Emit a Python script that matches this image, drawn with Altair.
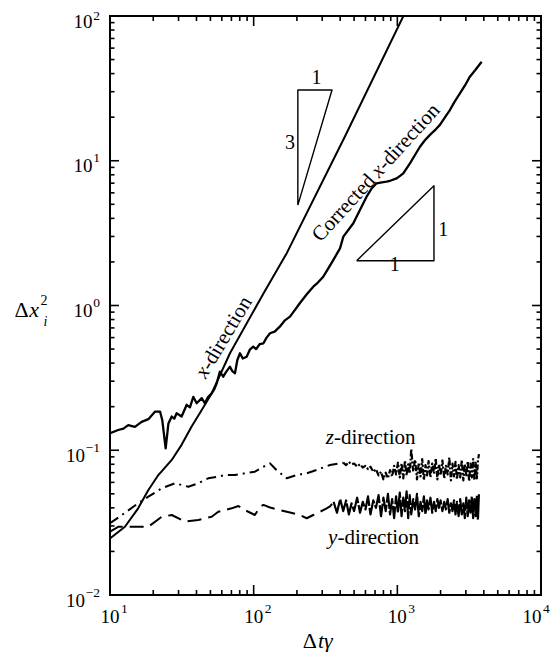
import altair as alt
import pandas as pd

# ---------------- data (x = Δtγ, y = Δx_i^2) ----------------
X_DIR_T = [10, 12.7, 15.7, 18.5, 21.7, 26.9, 31.5, 37, 43.5, 51, 68.4, 117, 170, 430, 1150]
X_DIR_V = [0.0246, 0.0296, 0.0397, 0.0531, 0.0674, 0.0857, 0.109, 0.146, 0.19, 0.247,
           0.468, 1.21, 2.3, 14.6, 109]

CORR_T = [10, 11.4, 12.4, 13.4, 14.9, 16.6, 18.5, 20.6, 22.3, 23.1, 24.4, 25.5, 26.9, 28.0,
          29.1, 31.5, 34.2, 36.0, 38.0, 40.1, 43.5, 45.8, 48.0, 51.0, 53.0, 55.3, 58.2, 61.4,
          64.0, 68.4, 71.0, 74.1, 77.0, 80.3, 84.0, 89.4, 94.0, 99.3, 104, 110, 117, 123, 130,
          140, 152, 165, 179, 195, 210, 235, 260, 280, 305, 330, 358, 399, 421, 494, 549, 611,
          660, 717, 780, 843, 900, 989, 1050, 1100, 1224, 1330, 1437, 1550, 1687, 1820, 1978,
          2150, 2322, 2500, 2727, 2950, 3199, 3500, 3864]
CORR_V = [0.131, 0.138, 0.141, 0.149, 0.145, 0.157, 0.164, 0.185, 0.185, 0.162, 0.103, 0.153,
          0.171, 0.165, 0.180, 0.171, 0.206, 0.198, 0.234, 0.211, 0.229, 0.211, 0.232, 0.247,
          0.262, 0.290, 0.349, 0.322, 0.345, 0.378, 0.352, 0.340, 0.420, 0.468, 0.430, 0.443,
          0.495, 0.519, 0.500, 0.540, 0.548, 0.600, 0.643, 0.660, 0.714, 0.790, 0.837, 0.940,
          1.04, 1.20, 1.35, 1.44, 1.58, 1.80, 2.06, 2.48, 2.99, 3.70, 4.57, 5.65, 6.40, 6.99,
          7.10, 7.17, 7.30, 7.56, 7.90, 8.19, 9.60, 11.0, 12.5, 13.8, 15.1, 16.2, 17.7, 20.0,
          22.4, 25.5, 29.2, 33.0, 38.1, 42.5, 48.3]

Z_T = [10, 12.1, 15.7, 18.5, 22.9, 28.3, 35.1, 41.1, 48.3, 56.7, 63.1, 74.1, 86.9, 102, 117,
       130, 144, 170, 199, 234, 274, 340, 400, 420]
Z_V = [0.0313, 0.0357, 0.043, 0.0478, 0.0546, 0.0591, 0.056, 0.0591, 0.064, 0.0656, 0.0674,
       0.0674, 0.0693, 0.0711, 0.0769, 0.0812, 0.0731, 0.064, 0.0674, 0.0693, 0.0731, 0.0791,
       0.0812, 0.082]
Z_NOISE = [(420, 0.082), (440, 0.079), (460, 0.083), (480, 0.080), (500, 0.081), (525, 0.077),
           (550, 0.080), (575, 0.076), (600, 0.078), (625, 0.074), (650, 0.077), (680, 0.071),
           (710, 0.074), (740, 0.067), (770, 0.071), (800, 0.063), (830, 0.070), (860, 0.064),
           (890, 0.073), (920, 0.066), (950, 0.078), (980, 0.068), (1010, 0.082), (1040, 0.065),
           (1070, 0.081), (1100, 0.064), (1130, 0.085), (1160, 0.067), (1190, 0.080),
           (1220, 0.069), (1250, 0.102), (1290, 0.071), (1330, 0.086), (1370, 0.063),
           (1410, 0.082), (1450, 0.066), (1490, 0.087), (1530, 0.062), (1570, 0.079),
           (1610, 0.067), (1650, 0.084), (1700, 0.065), (1750, 0.081), (1800, 0.069),
           (1850, 0.088), (1900, 0.063), (1950, 0.080), (2000, 0.067), (2060, 0.085),
           (2120, 0.064), (2180, 0.078), (2240, 0.068), (2300, 0.089), (2360, 0.062),
           (2420, 0.081), (2480, 0.066), (2540, 0.083), (2600, 0.063), (2670, 0.079),
           (2740, 0.065), (2810, 0.086), (2880, 0.062), (2950, 0.080), (3020, 0.066),
           (3090, 0.084), (3160, 0.061), (3230, 0.081), (3300, 0.065), (3370, 0.087),
           (3440, 0.062), (3510, 0.082), (3580, 0.064), (3640, 0.085), (3700, 0.094)]

Y_T = [10, 11.4, 14.9, 18.5, 22.9, 26.9, 33.3, 41.1, 51, 56.7, 70.3, 78.2, 86.9, 102, 111,
       117, 130, 152, 179, 210, 234, 260, 290, 322, 340, 360]
Y_V = [0.0274, 0.0296, 0.0296, 0.0296, 0.0347, 0.0357, 0.0321, 0.033, 0.0347, 0.0376, 0.0397,
       0.0412, 0.0386, 0.0357, 0.0407, 0.0419, 0.0402, 0.0386, 0.0371, 0.0357, 0.0339, 0.0357,
       0.0376, 0.0397, 0.041, 0.044]
Y_NOISE = [(360, 0.044), (380, 0.037), (400, 0.046), (420, 0.038), (440, 0.045), (460, 0.036),
           (480, 0.043), (500, 0.038), (525, 0.047), (550, 0.037), (575, 0.044), (600, 0.039),
           (625, 0.048), (650, 0.036), (680, 0.045), (710, 0.040), (740, 0.049), (770, 0.035),
           (800, 0.047), (830, 0.038), (860, 0.050), (890, 0.036), (920, 0.046), (950, 0.034),
           (980, 0.048), (1010, 0.037), (1040, 0.051), (1070, 0.035), (1100, 0.047),
           (1130, 0.038), (1160, 0.052), (1190, 0.034), (1220, 0.049), (1250, 0.036),
           (1290, 0.046), (1330, 0.039), (1370, 0.050), (1410, 0.035), (1450, 0.044),
           (1490, 0.038), (1530, 0.048), (1570, 0.036), (1610, 0.045), (1650, 0.039),
           (1700, 0.047), (1750, 0.037), (1800, 0.044), (1850, 0.038), (1900, 0.046),
           (1950, 0.040), (2000, 0.045), (2060, 0.038), (2120, 0.044), (2180, 0.039),
           (2240, 0.046), (2300, 0.037), (2360, 0.043), (2420, 0.038), (2480, 0.045),
           (2540, 0.036), (2600, 0.044), (2670, 0.035), (2740, 0.046), (2810, 0.036),
           (2880, 0.043), (2950, 0.034), (3020, 0.047), (3090, 0.035), (3160, 0.045),
           (3230, 0.037), (3300, 0.048), (3370, 0.034), (3440, 0.046), (3510, 0.035),
           (3580, 0.049), (3640, 0.033), (3700, 0.051)]

# slope triangles (vertices, closed)
TRI3_T = [203, 203, 351, 203]
TRI3_V = [4.94, 30.8, 30.8, 4.94]
TRI1_T = [521, 1799, 1799, 521]
TRI1_V = [2.04, 2.04, 6.73, 2.04]

# axes: major/minor tick values and the exponent of each major label
X_MAJOR = [10, 100, 1000, 10000]
X_EXP = ["1", "2", "3", "4"]
Y_MAJOR_POS = [1, 10]
Y_EXP_POS = ["0", "1"]
Y_MAJOR_TOP = [100]
Y_EXP_TOP = ["2"]
Y_MAJOR_NEG = [0.01, 0.1]
Y_EXP_NEG = ["\u22122", "\u22121"]
Y_MAJOR = Y_MAJOR_NEG + Y_MAJOR_POS + Y_MAJOR_TOP
X_MINOR = [m * 10 ** k for k in (1, 2, 3) for m in range(2, 10)]
Y_MINOR = [m * 10.0 ** k for k in (-2, -1, 0, 1) for m in range(2, 10)]

# ---------------- chart ----------------
W, H = 431, 579
FONT = "Liberation Serif"
xs = alt.Scale(type="log", domain=[10, 10000], nice=False)
ys = alt.Scale(type="log", domain=[0.01, 100], nice=False)
XE = alt.X("t:Q", scale=xs, axis=None)
YE = alt.Y("v:Q", scale=ys, axis=None)


def df(t, v):
    return pd.DataFrame({"t": list(t), "v": list(v)})


def line(data, dash=None, sw=2.0, ordered=False):
    kw = dict(color="black", strokeWidth=sw, clip=True, strokeJoin="round")
    if dash:
        kw["strokeDash"] = dash
    c = alt.Chart(data).mark_line(**kw).encode(x=XE, y=YE)
    if ordered:
        c = c.encode(order="o:Q")
    return c


layers = []
layers.append(line(df(X_DIR_T, X_DIR_V), sw=2.0))
layers.append(line(df(CORR_T, CORR_V), sw=2.3))
layers.append(line(df(Z_T, Z_V), dash=[10, 5, 2, 5], sw=2.0))
layers.append(line(df([p[0] for p in Z_NOISE], [p[1] for p in Z_NOISE]), dash=[6, 2, 2, 2], sw=2.2))
layers.append(line(df(Y_T, Y_V), dash=[14, 7], sw=2.0))
layers.append(line(df([p[0] for p in Y_NOISE], [p[1] for p in Y_NOISE]), dash=[24, 2], sw=2.2))

for tt, vv in ((TRI3_T, TRI3_V), (TRI1_T, TRI1_V)):
    d = df(tt, vv)
    d["o"] = range(len(d))
    layers.append(line(d, sw=1.4, ordered=True))


# ticks (inside, on all four sides)
def ticks(values, side, length):
    d = pd.DataFrame({"t": values, "v": values})
    m = alt.Chart(d).mark_rule(color="black", strokeWidth=1.6)
    if side == "bottom":
        return m.encode(x=XE, y=alt.value(H), y2=alt.value(H - length))
    if side == "top":
        return m.encode(x=XE, y=alt.value(0), y2=alt.value(length))
    if side == "left":
        return m.encode(y=YE, x=alt.value(0), x2=alt.value(length))
    return m.encode(y=YE, x=alt.value(W), x2=alt.value(W - length))


for side in ("bottom", "top"):
    layers.append(ticks(X_MAJOR, side, 10))
    layers.append(ticks(X_MINOR, side, 5))
for side in ("left", "right"):
    layers.append(ticks(Y_MAJOR, side, 9))
    layers.append(ticks(Y_MINOR, side, 4.5))

# tick labels: "10" with a raised exponent
tk = dict(font=FONT, color="black", baseline="alphabetic")
for lo, hi, shift in ((0, 3, 0), (3, 4, -9)):   # last label nudged left to stay on the page
    xl = pd.DataFrame({"t": X_MAJOR[lo:hi], "e": X_EXP[lo:hi]})
    base_kw = dict(fontSize=19, align="center", **tk)
    if shift:
        base_kw["dx"] = shift
    layers.append(alt.Chart(xl).mark_text(**base_kw).encode(
        x=XE, y=alt.value(H + 28), text=alt.value("10")))
    layers.append(alt.Chart(xl).mark_text(fontSize=13.5, align="left", dx=11 + shift, **tk).encode(
        x=XE, y=alt.value(H + 18), text="e:N"))
for vals, exps, xb, edy in ((Y_MAJOR_POS, Y_EXP_POS, -17.5, 1.5),
                            (Y_MAJOR_TOP, Y_EXP_TOP, -17.5, 4),
                            (Y_MAJOR_NEG, Y_EXP_NEG, -25, 1.5)):
    yl = pd.DataFrame({"v": vals, "e": exps})
    layers.append(alt.Chart(yl).mark_text(fontSize=19, align="right", dy=11.5, **tk).encode(
        y=YE, x=alt.value(xb), text=alt.value("10")))
    layers.append(alt.Chart(yl).mark_text(fontSize=13.5, align="right", dy=edy, **tk).encode(
        y=YE, x=alt.value(-10), text="e:N"))


# annotations in data coordinates
def note(t, v, s, angle=0, align="center", italic=False, size=21, dx=0, dy=0, baseline="middle"):
    d = pd.DataFrame({"t": [t], "v": [v], "s": [s]})
    kw = dict(font=FONT, fontSize=size, align=align, baseline=baseline, color="black",
              fontStyle="italic" if italic else "normal")
    if angle:
        kw["angle"] = angle
    if dx:
        kw["dx"] = dx
    if dy:
        kw["dy"] = dy
    return alt.Chart(d).mark_text(**kw).encode(x=XE, y=YE, text="s:N")


layers += [
    note(46.2, 0.368, "x", angle=301, align="right", italic=True),
    note(46.2, 0.368, "-direction", angle=301, align="left"),
    note(733, 8.49, "Corrected", angle=312.4, align="right", dx=-9),
    note(733, 8.49, "x", angle=312.4, align="center", italic=True),
    note(733, 8.49, "-direction", angle=312.4, align="left", dx=5),
    note(362, 0.121, "z", align="right", italic=True),
    note(362, 0.121, "-direction", align="left"),
    note(383, 0.0246, "y", align="right", italic=True),
    note(383, 0.0246, "-direction", align="left"),
    note(274, 37.2, "1", size=20),
    note(179, 13.2, "3", size=20),
    note(2085, 3.33, "1", size=20),
    note(961, 1.905, "1", size=20),
]


# axis titles (pixel positions relative to the plot area)
def ptxt(px, py, s, size, italic=False, align="center"):
    d = pd.DataFrame({"s": [s]})
    return alt.Chart(d).mark_text(font=FONT, fontSize=size, align=align, baseline="alphabetic",
                                  color="black",
                                  fontStyle="italic" if italic else "normal").encode(
        x=alt.value(px), y=alt.value(py), text="s:N")


layers += [
    ptxt(-88.5, 301, "Δ", 22),
    ptxt(-76, 301, "x", 22, italic=True),
    ptxt(-66, 289, "2", 14),
    ptxt(-64.5, 310, "i", 14, italic=True),
    ptxt(207, 632, "Δ", 22, align="right"),
    ptxt(208, 632, "tγ", 22, italic=True, align="left"),
]

chart = alt.layer(*layers).properties(
    width=W, height=H,
    autosize=alt.AutoSizeParams(type="none"),
    padding={"left": 102, "top": 8, "right": 9, "bottom": 57},
).configure_view(stroke="black", strokeWidth=2)

chart.save("out.html", embed_options={"renderer": "svg", "actions": False})
